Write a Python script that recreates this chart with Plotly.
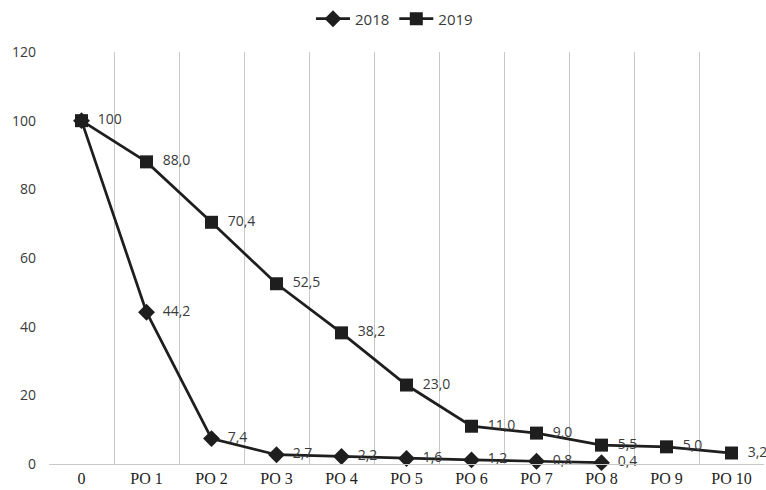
import plotly.graph_objects as go

categories = ["0", "PO 1", "PO 2", "PO 3", "PO 4", "PO 5", "PO 6", "PO 7", "PO 8", "PO 9", "PO 10"]
y2018 = [100, 44.2, 7.4, 2.7, 2.2, 1.6, 1.2, 0.8, 0.4]
y2019 = [100, 88.0, 70.4, 52.5, 38.2, 23.0, 11.0, 9.0, 5.5, 5.0, 3.2]

def fmt(v):
    return "\u2002" + f"{v:.1f}".replace(".", ",")

text2018 = [""] + [fmt(v) for v in y2018[1:]]
text2019 = ["\u2002100"] + [fmt(v) for v in y2019[1:]]

line_col = "#1e1e1e"
txt_col = "#3a3a3a"
lbl_font = dict(family="Open Sans, Liberation Sans, sans-serif", size=14, color=txt_col)

fig = go.Figure()
fig.add_trace(go.Scatter(
    x=categories[:len(y2018)], y=y2018, name="2018", mode="lines+markers+text",
    line=dict(color=line_col, width=2.75),
    marker=dict(symbol="diamond", size=13, color=line_col),
    text=text2018, textposition="middle right", textfont=lbl_font,
    cliponaxis=False,
))
fig.add_trace(go.Scatter(
    x=categories, y=y2019, name="2019", mode="lines+markers+text",
    line=dict(color=line_col, width=2.75),
    marker=dict(symbol="square", size=13, color=line_col),
    text=text2019, textposition="middle right", textfont=lbl_font,
    cliponaxis=False,
))

fig.update_layout(
    width=766, height=490,
    margin=dict(l=49, r=2, t=52, b=26),
    plot_bgcolor="white", paper_bgcolor="white",
    showlegend=True,
    legend=dict(orientation="h", x=0.515, xanchor="center", xref="container",
                y=0.995, yanchor="top", yref="container",
                font=dict(family="Open Sans, Liberation Sans, sans-serif", size=15, color=txt_col),
                itemwidth=34),
    xaxis=dict(type="category", categoryorder="array", categoryarray=categories,
               tickson="boundaries", showgrid=True, gridcolor="#c8c8c8", gridwidth=1,
               showline=True, linecolor="#c8c8c8", ticks="",
               tickfont=dict(family="Liberation Serif, serif", size=16, color="#222222"),
               range=[-0.5, 10.5]),
    yaxis=dict(range=[0, 120], dtick=20, showgrid=False, zeroline=False, showline=False,
               tickfont=dict(family="Open Sans, Liberation Sans, sans-serif", size=14, color=txt_col),
               ticklabelstandoff=12),
)

fig.write_html("out.html", config={"displayModeBar": False},
               post_script="document.body.style.margin='0';document.body.style.overflow='hidden';")
